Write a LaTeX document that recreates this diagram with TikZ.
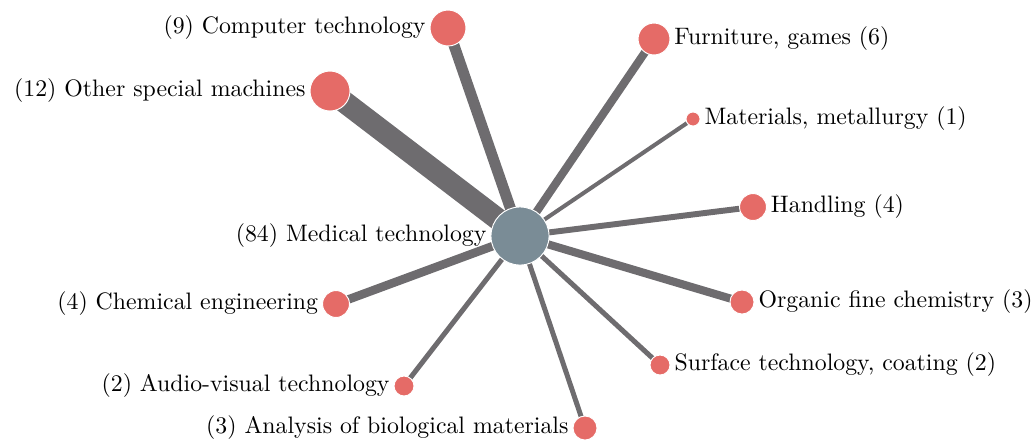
\documentclass[tikz,border=0pt]{standalone}
\usepackage{xcolor}
\usetikzlibrary{positioning,backgrounds}
\definecolor{leafred}{HTML}{E56B67}
\definecolor{hubgray}{HTML}{7A8C96}
\definecolor{linkgray}{HTML}{6E6C6F}

\begin{document}
\begin{tikzpicture}[
    x=0.42pt, y=-0.42pt,
    leaf/.style={circle, fill=leafred, draw=white, line width=0.4pt, inner sep=0pt, minimum size=#1},
    hub/.style={circle, fill=hubgray, draw=white, line width=0.4pt, inner sep=0pt, minimum size=24.4pt},
    link/.style={draw=linkgray, line width=#1},
    every label/.style={inner sep=1.5pt, font=\normalsize}
]
\useasboundingbox (0,0) rectangle (1035,442);

\node[hub, label={[label distance=0pt]left:(84) Medical technology}] (med) at (520,236) {};

\node[leaf=15.1pt, label=left:(9) Computer technology] (comp) at (448,28) {};
\node[leaf=16.8pt, label=left:(12) Other special machines] (other) at (330,91) {};
\node[leaf=13.4pt, label=right:{Furniture, games (6)}] (furn) at (654,39) {};
\node[leaf=5.9pt, label=right:{Materials, metallurgy (1)}] (metal) at (693,119) {};
\node[leaf=11.3pt, label=right:Handling (4)] (handl) at (753,207) {};
\node[leaf=10.1pt, label=right:Organic fine chemistry (3)] (organ) at (742,302) {};
\node[leaf=8.4pt, label=right:{Surface technology, coating (2)}] (surf) at (660,365) {};
\node[leaf=10.1pt, label=left:(3) Analysis of biological materials] (bio) at (585,428) {};
\node[leaf=8.4pt, label=left:(2) Audio-visual technology] (audio) at (404,386) {};
\node[leaf=11.3pt, label=left:(4) Chemical engineering] (chem) at (336,304) {};

% links behind the circles
\begin{scope}[on background layer]
\draw[link=9.2pt] (med.center) -- (other.center);
\draw[link=4.6pt] (med.center) -- (comp.center);
\draw[link=3.4pt] (med.center) -- (furn.center);
\draw[link=1.7pt] (med.center) -- (metal.center);
\draw[link=2.5pt] (med.center) -- (handl.center);
\draw[link=3.4pt] (med.center) -- (organ.center);
\draw[link=2.1pt] (med.center) -- (surf.center);
\draw[link=2.1pt] (med.center) -- (bio.center);
\draw[link=2.1pt] (med.center) -- (audio.center);
\draw[link=3.6pt] (med.center) -- (chem.center);
\end{scope}
\end{tikzpicture}
\end{document}
